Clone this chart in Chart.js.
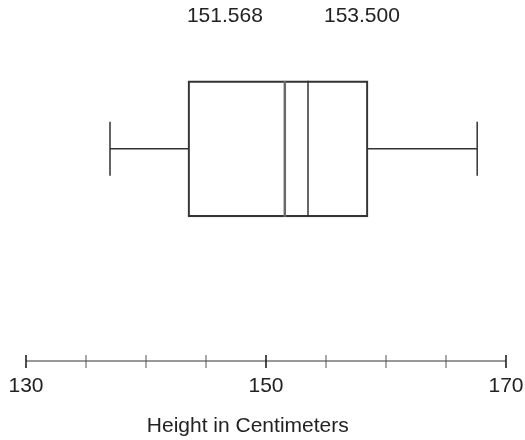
<!DOCTYPE html>
<html>
<head>
<meta charset="utf-8">
<script src="https://cdn.jsdelivr.net/npm/chart.js@4.4.0/dist/chart.umd.min.js"></script>
<style>
  html, body { margin: 0; padding: 0; background: #fff; }
  canvas { display: block; }
</style>
</head>
<body>
<canvas id="boxChart" width="525" height="440"></canvas>
<script>
// five number summary of the heights (cm) + the mean
const summaryNames = ["min", "q1", "median", "q3", "max"];
const summaryValues = [137.0, 143.5, 153.5, 158.5, 167.6];
const meanValues = [151.568];
const topLabels = ["151.568", "153.500"];
const axisTicks = [130, 135, 140, 145, 150, 155, 160, 165, 170];
const labelledTicks = [130, 150, 170];
const axisTitle = "Height in Centimeters";

const stat = {};
summaryNames.forEach((n, i) => stat[n] = summaryValues[i]);

const FONT = "'Liberation Sans', Arial, Helvetica, sans-serif";
const INK = "#222";

// whiskers, mean/median lines, labels, axis line + ticks
const boxExtras = {
  id: "boxExtras",
  afterDatasetsDraw(chart) {
    const ctx = chart.ctx;
    const xs = chart.scales.x;
    const bar = chart.getDatasetMeta(0).data[0];
    const { y, height } = bar.getProps(["y", "height"], true);
    const top = y - height / 2, bot = y + height / 2;
    const px = v => xs.getPixelForValue(v);
    const cap = 27;

    ctx.save();
    ctx.strokeStyle = "#333";
    ctx.lineWidth = 1.5;
    // whiskers
    ctx.beginPath();
    ctx.moveTo(px(stat.min), y); ctx.lineTo(px(stat.q1), y);
    ctx.moveTo(px(stat.q3), y); ctx.lineTo(px(stat.max), y);
    ctx.moveTo(px(stat.min), y - cap); ctx.lineTo(px(stat.min), y + cap);
    ctx.moveTo(px(stat.max), y - cap); ctx.lineTo(px(stat.max), y + cap);
    ctx.stroke();

    // median
    ctx.beginPath();
    ctx.moveTo(px(stat.median), top); ctx.lineTo(px(stat.median), bot);
    ctx.stroke();

    // mean (drawn a bit heavier / greyer)
    ctx.strokeStyle = "#6b6b6b";
    ctx.lineWidth = 2.5;
    ctx.beginPath();
    ctx.moveTo(px(meanValues[0]), top); ctx.lineTo(px(meanValues[0]), bot);
    ctx.stroke();

    // labels above the box
    ctx.fillStyle = INK;
    ctx.font = "21px " + FONT;
    ctx.textBaseline = "middle";
    ctx.textAlign = "right";
    ctx.fillText(topLabels[0], px(meanValues[0]) - 22, 16);
    ctx.textAlign = "left";
    ctx.fillText(topLabels[1], px(stat.median) + 16, 16);

    // axis line and ticks crossing it
    const ay = chart.chartArea.bottom;
    ctx.strokeStyle = "#333";
    ctx.lineWidth = 1;
    ctx.beginPath();
    ctx.moveTo(px(axisTicks[0]), ay);
    ctx.lineTo(px(axisTicks[axisTicks.length - 1]), ay);
    ctx.stroke();
    axisTicks.forEach(t => {
      const major = labelledTicks.includes(t);
      ctx.strokeStyle = major ? "#222" : "#555";
      ctx.lineWidth = major ? 1.6 : 1;
      ctx.beginPath();
      ctx.moveTo(px(t), ay - 6);
      ctx.lineTo(px(t), ay + 7);
      ctx.stroke();
    });

    // axis title
    ctx.fillStyle = INK;
    ctx.textAlign = "center";
    ctx.fillText(axisTitle, chart.chartArea.left + chart.chartArea.width * 0.462, 426);
    ctx.restore();
  }
};

new Chart(document.getElementById("boxChart"), {
  type: "bar",
  data: {
    datasets: [{
      label: "Height",
      data: [{ x: [stat.q1, stat.q3], y: 2 }],
      backgroundColor: "rgba(0,0,0,0)",
      borderColor: "#333",
      borderWidth: 1.5,
      borderSkipped: false,
      barThickness: 136
    }]
  },
  options: {
    responsive: false,
    animation: false,
    indexAxis: "y",
    layout: { padding: { top: 31, left: 26, right: 19, bottom: 39 } },
    scales: {
      x: {
        type: "linear",
        min: 130,
        max: 170,
        afterBuildTicks: scale => { scale.ticks = axisTicks.map(v => ({ value: v })); },
        afterFit: scale => {
          // let the layout padding alone decide the plot edges
          scale.paddingLeft = 0;
          scale.paddingRight = 0;
          scale.paddingTop = 0;
          scale.paddingBottom = 0;
          scale.height = 40;
        },
        ticks: {
          autoSkip: false,
          maxRotation: 0,
          padding: 13,
          color: INK,
          font: { family: FONT, size: 21 },
          callback: v => labelledTicks.includes(v) ? String(v) : ""
        },
        grid: { display: false, drawTicks: false },
        border: { display: false }
      },
      y: { type: "linear", min: 0, max: 3, display: false }
    },
    plugins: {
      legend: { display: false },
      tooltip: { enabled: false }
    }
  },
  plugins: [boxExtras]
});
</script>
</body>
</html>
